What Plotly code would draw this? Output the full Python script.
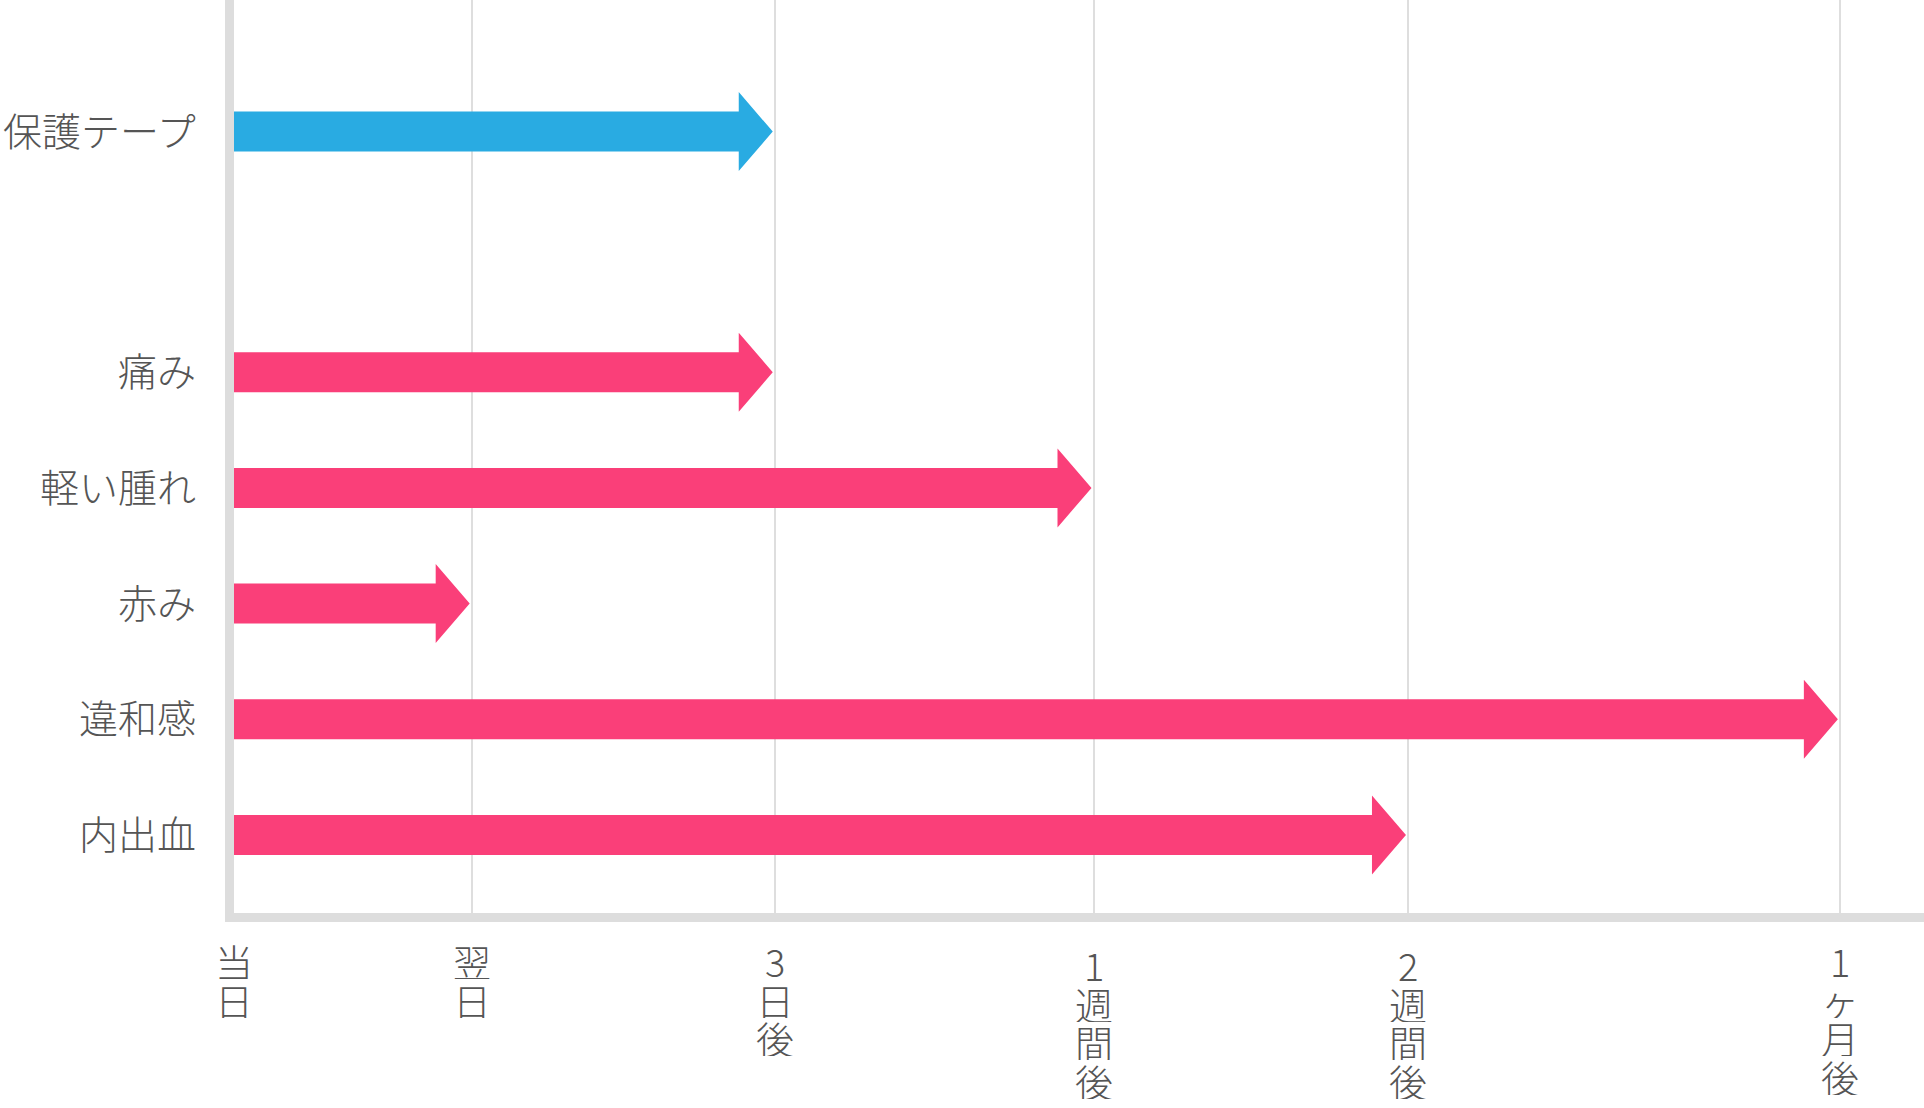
import plotly.graph_objects as go

# ---- data ----
tick_labels = ["当日", "翌日", "3日後", "1週間後", "2週間後", "1ヶ月後"]
tick_pos = [0, 1, 2.275, 3.616, 4.939, 6.756]          # position of each time mark on the axis
items = ["保護テープ", "痛み", "軽い腫れ", "赤み", "違和感", "内出血"]
item_row = [6.08, 4, 3, 2, 1, 0]                         # row of each item
item_end = ["3日後", "3日後", "1週間後", "翌日", "1ヶ月後", "2週間後"]  # how long it lasts
item_color = ["#29ABE2", "#FA3F79", "#FA3F79", "#FA3F79", "#FA3F79", "#FA3F79"]

# ---- layout geometry (style) ----
W, H = 1924, 1108
ML, MR, MT, MB = 234, 0, 0, 195
XR = [0, 7.110]
YR = [-0.674, 7.217]
px_x = (W - ML - MR) / (XR[1] - XR[0])
px_y = (H - MT - MB) / (YR[1] - YR[0])
head_len = 34 / px_x
head_half = 39.5 / px_y
bar_half = 20 / px_y
tip_gap = 2 / px_x

FONT = "Noto Sans CJK JP"
TXT = "#555555"

fig = go.Figure()
for name, row, end, col in zip(items, item_row, item_end, item_color):
    xt = tick_pos[tick_labels.index(end)] - tip_gap
    xb = xt - head_len
    xs = [0, xb, xb, xt, xb, xb, 0, 0]
    ys = [row - bar_half, row - bar_half, row - head_half, row,
          row + head_half, row + bar_half, row + bar_half, row - bar_half]
    fig.add_trace(go.Scatter(x=xs, y=ys, mode="lines", fill="toself",
                             fillcolor=col, line=dict(width=0, color=col),
                             hoverinfo="skip", showlegend=False, name=name))

ann = []
# item labels
for name, row in zip(items, item_row):
    ann.append(dict(x=0, xref="paper", y=row, yref="y", text=name,
                    xanchor="right", yanchor="middle", xshift=-36, yshift=3,
                    showarrow=False,
                    font=dict(family=FONT, size=39, color=TXT, weight=300)))

# vertical time labels (one character per line)
label_drop = [0, 0, 0, 4, 4, 0]
first_center = 47
pitch = 38.5
for lab, pos, drop in zip(tick_labels, tick_pos, label_drop):
    for j, ch in enumerate(lab):
        ann.append(dict(x=pos, xref="x", y=0, yref="paper", text=ch,
                        xanchor="center", yanchor="middle", borderpad=0,
                        height=38, valign="middle",
                        yshift=-(first_center + drop + j * pitch),
                        showarrow=False,
                        font=dict(family=FONT, size=38, color=TXT, weight=300)))

fig.update_layout(
    width=W, height=H,
    margin=dict(l=ML, r=MR, t=MT, b=MB, pad=0),
    paper_bgcolor="white", plot_bgcolor="white",
    annotations=ann,
    xaxis=dict(range=XR, tickvals=tick_pos, showticklabels=False, ticks="",
               showgrid=True, gridcolor="#dedede", gridwidth=2, zeroline=False,
               showline=True, linecolor="#dddddd", linewidth=9, fixedrange=True),
    yaxis=dict(range=YR, showticklabels=False, ticks="", showgrid=False,
               zeroline=False, showline=True, linecolor="#dddddd", linewidth=9,
               fixedrange=True),
)

fig.write_html("out.html", config={"displayModeBar": False})
